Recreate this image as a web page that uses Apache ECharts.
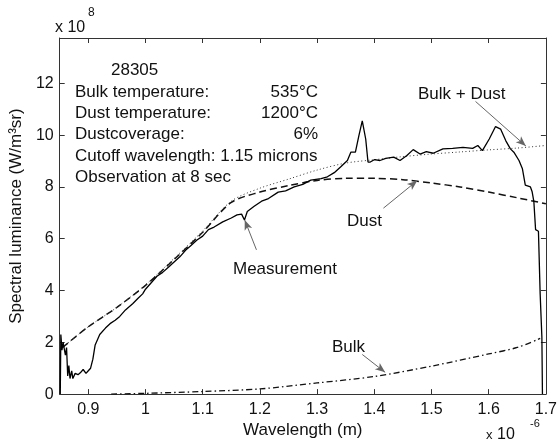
<!DOCTYPE html>
<html>
<head>
<meta charset="utf-8">
<script src="https://cdn.jsdelivr.net/npm/echarts@6/dist/echarts.min.js"></script>
<style>
  html, body { margin: 0; padding: 0; background: #fff; }
  #main { width: 560px; height: 444px; }
</style>
</head>
<body>
<div id="main"></div>
<script>
// wavelength in 1e-6 m, luminance in 1e8 W/m^3sr
var measurement = [
  [0.851, 0.0], [0.852, 2.3], [0.854, 1.7], [0.856, 2.0], [0.858, 1.75], [0.860, 1.5],
  [0.862, 1.8], [0.864, 0.7], [0.866, 1.1], [0.868, 0.6], [0.871, 0.9], [0.873, 0.6],
  [0.877, 0.8], [0.882, 0.75], [0.886, 0.82], [0.891, 0.95], [0.896, 0.8], [0.900, 0.9],
  [0.904, 1.0], [0.908, 1.35], [0.912, 1.9], [0.920, 2.3], [0.930, 2.55], [0.938, 2.72],
  [0.947, 2.85], [0.955, 3.0], [0.965, 3.25], [0.978, 3.5], [0.987, 3.7], [0.995, 3.87],
  [1.0, 4.05], [1.01, 4.3], [1.02, 4.55], [1.03, 4.7], [1.04, 4.9], [1.05, 5.1],
  [1.06, 5.3], [1.07, 5.55], [1.08, 5.75], [1.09, 5.95], [1.1, 6.1], [1.11, 6.35],
  [1.12, 6.45], [1.135, 6.65], [1.15, 6.8], [1.16, 6.92], [1.168, 6.95], [1.173, 6.72],
  [1.178, 7.05], [1.19, 7.25], [1.203, 7.45], [1.215, 7.55], [1.232, 7.8], [1.245, 7.85],
  [1.26, 8.0], [1.275, 8.1], [1.289, 8.26], [1.307, 8.32], [1.318, 8.39], [1.33, 8.55],
  [1.341, 8.77], [1.353, 9.02], [1.359, 9.34], [1.367, 9.34], [1.373, 9.97], [1.379, 10.55],
  [1.385, 9.85], [1.389, 8.96], [1.393, 8.96], [1.40, 9.05], [1.41, 9.02], [1.42, 9.1],
  [1.434, 9.15], [1.445, 9.02], [1.457, 9.21], [1.468, 9.44], [1.48, 9.27], [1.491, 9.36],
  [1.503, 9.3], [1.52, 9.47], [1.537, 9.49], [1.555, 9.53], [1.572, 9.49], [1.581, 9.6],
  [1.589, 9.4], [1.601, 9.85], [1.612, 10.33], [1.621, 10.23], [1.63, 9.78], [1.638, 9.47],
  [1.644, 9.34], [1.653, 9.02], [1.659, 8.7], [1.664, 8.07], [1.673, 8.0], [1.676, 7.81],
  [1.679, 7.43], [1.682, 6.35], [1.687, 6.29], [1.69, 3.87], [1.693, 2.21], [1.694, 0.0]
]
var dust = [
  [0.855, 1.8], [0.9, 2.6], [0.95, 3.35], [1.0, 4.2], [1.05, 5.2], [1.1, 6.25], [1.15, 7.4],
  [1.2, 7.8], [1.25, 8.05], [1.3, 8.25], [1.35, 8.33], [1.4, 8.33], [1.45, 8.28],
  [1.5, 8.15], [1.55, 8.0], [1.6, 7.8], [1.65, 7.58], [1.7, 7.35]
]
var bulkDust = [
  [0.855, 1.8], [0.9, 2.6], [0.95, 3.35], [1.0, 4.22], [1.05, 5.24], [1.1, 6.3], [1.15, 7.45],
  [1.2, 7.95], [1.25, 8.3], [1.3, 8.65], [1.35, 8.92], [1.4, 9.05], [1.45, 9.17],
  [1.5, 9.27], [1.55, 9.35], [1.6, 9.43], [1.65, 9.5], [1.7, 9.6]
]
var bulk = [
  [0.94, 0.0], [1.0, 0.03], [1.1, 0.1], [1.2, 0.2], [1.3, 0.43], [1.4, 0.68],
  [1.5, 1.08], [1.6, 1.55], [1.65, 1.8], [1.69, 2.15]
]
var infoLabels = ['Bulk temperature:', 'Dust temperature:', 'Dustcoverage:']
var infoValues = ['535°C', '1200°C', '6%']

var font = "'Liberation Sans', Arial, Helvetica, sans-serif"
var ink = '#111'

var myChart = echarts.init(document.getElementById('main'))

function axisX(pos) {
  return {
    type: 'value', position: pos, min: 0.85, max: 1.7, splitNumber: 8,
    name: pos === 'bottom' ? 'Wavelength (m)' : '',
    nameLocation: 'middle', nameGap: 24,
    nameTextStyle: { fontFamily: font, fontSize: 17, color: ink },
    axisLine: { onZero: false, lineStyle: { color: '#333', width: 1 } },
    axisTick: { inside: true, length: 5, lineStyle: { color: '#333' } },
    axisLabel: {
      show: pos === 'bottom', showMinLabel: false, margin: 7,
      fontFamily: font, fontSize: 16, color: ink
    },
    splitLine: { show: false }
  }
}
function axisY(pos) {
  return {
    type: 'value', position: pos, min: 0, max: 13.75, interval: 2,
    name: pos === 'left' ? 'Spectral luminance (W/m³sr)' : '',
    nameLocation: 'middle', nameGap: 30, nameRotate: 90,
    nameTextStyle: { fontFamily: font, fontSize: 17, color: ink },
    axisLine: { onZero: false, lineStyle: { color: '#333', width: 1 } },
    axisTick: { inside: true, length: 5, lineStyle: { color: '#333' } },
    axisLabel: {
      show: pos === 'left', showMaxLabel: false, margin: 6,
      fontFamily: font, fontSize: 16, color: ink
    },
    splitLine: { show: false }
  }
}

var arrowStyle = { color: '#666', width: 1, type: 'solid' }
function arrow(from, to) {
  return [{ coord: from }, { coord: to }]
}

var graphics = [
  { type: 'text', left: 55, top: 20, style: { text: 'x 10', font: '16px ' + font, fill: ink } },
  { type: 'text', left: 88, top: 7, style: { text: '8', font: '12px ' + font, fill: ink } },
  { type: 'text', left: 486, top: 429, style: { text: 'x', font: '13px ' + font, fill: ink } },
  { type: 'text', left: 497, top: 427, style: { text: '10', font: '16px ' + font, fill: ink } },
  { type: 'text', left: 530, top: 418, style: { text: '-6', font: '11px ' + font, fill: ink } },
  { type: 'text', left: 111, top: 62, style: { text: '28305', font: '17px ' + font, fill: ink } },
  { type: 'text', left: 75, top: 148, style: { text: 'Cutoff wavelength: 1.15 microns', font: '17px ' + font, fill: ink } },
  { type: 'text', left: 75, top: 169, style: { text: 'Observation at 8 sec', font: '17px ' + font, fill: ink } },
  { type: 'text', left: 418, top: 86, style: { text: 'Bulk + Dust', font: '17px ' + font, fill: ink } },
  { type: 'text', left: 347, top: 213, style: { text: 'Dust', font: '17px ' + font, fill: ink } },
  { type: 'text', left: 233, top: 261, style: { text: 'Measurement', font: '17px ' + font, fill: ink } },
  { type: 'text', left: 332, top: 339, style: { text: 'Bulk', font: '17px ' + font, fill: ink } }
]
infoLabels.forEach(function (t, i) {
  graphics.push({ type: 'text', left: 75, top: 84 + i * 21, style: { text: t, font: '17px ' + font, fill: ink } })
  graphics.push({ type: 'text', right: 242, top: 84 + i * 21, style: { text: infoValues[i], font: '17px ' + font, fill: ink, align: 'right' } })
})

var option = {
  backgroundColor: '#fff',
  animation: false,
  grid: { left: 56, right: 13, top: 38, bottom: 46 },
  xAxis: [axisX('bottom'), axisX('top')],
  yAxis: [axisY('left'), axisY('right')],
  graphic: graphics,
  series: [
    {
      name: 'Bulk', type: 'line', data: bulk, showSymbol: false, smooth: 0.3,
      lineStyle: { color: '#111', width: 1.3, type: [6, 3, 1.5, 3] }
    },
    {
      name: 'Dust', type: 'line', data: dust, showSymbol: false, smooth: 0.3,
      lineStyle: { color: '#111', width: 1.5, type: [7, 4] }
    },
    {
      name: 'Bulk + Dust', type: 'line', data: bulkDust, showSymbol: false, smooth: 0.3,
      lineStyle: { color: '#333', width: 1, type: [1, 2.5] }
    },
    {
      name: 'Measurement', type: 'line', data: measurement, showSymbol: false,
      lineStyle: { color: '#000', width: 1.3 },
      markLine: {
        silent: true, symbol: ['none', 'arrow'], symbolSize: [6, 10],
        label: { show: false }, lineStyle: arrowStyle,
        data: [
          arrow([1.577, 11.3], [1.665, 9.58]),
          arrow([1.416, 7.18], [1.475, 8.24]),
          arrow([1.194, 5.57], [1.1735, 6.72]),
          arrow([1.379, 1.53], [1.419, 0.84])
        ]
      }
    }
  ]
}
myChart.setOption(option)
</script>
</body>
</html>
